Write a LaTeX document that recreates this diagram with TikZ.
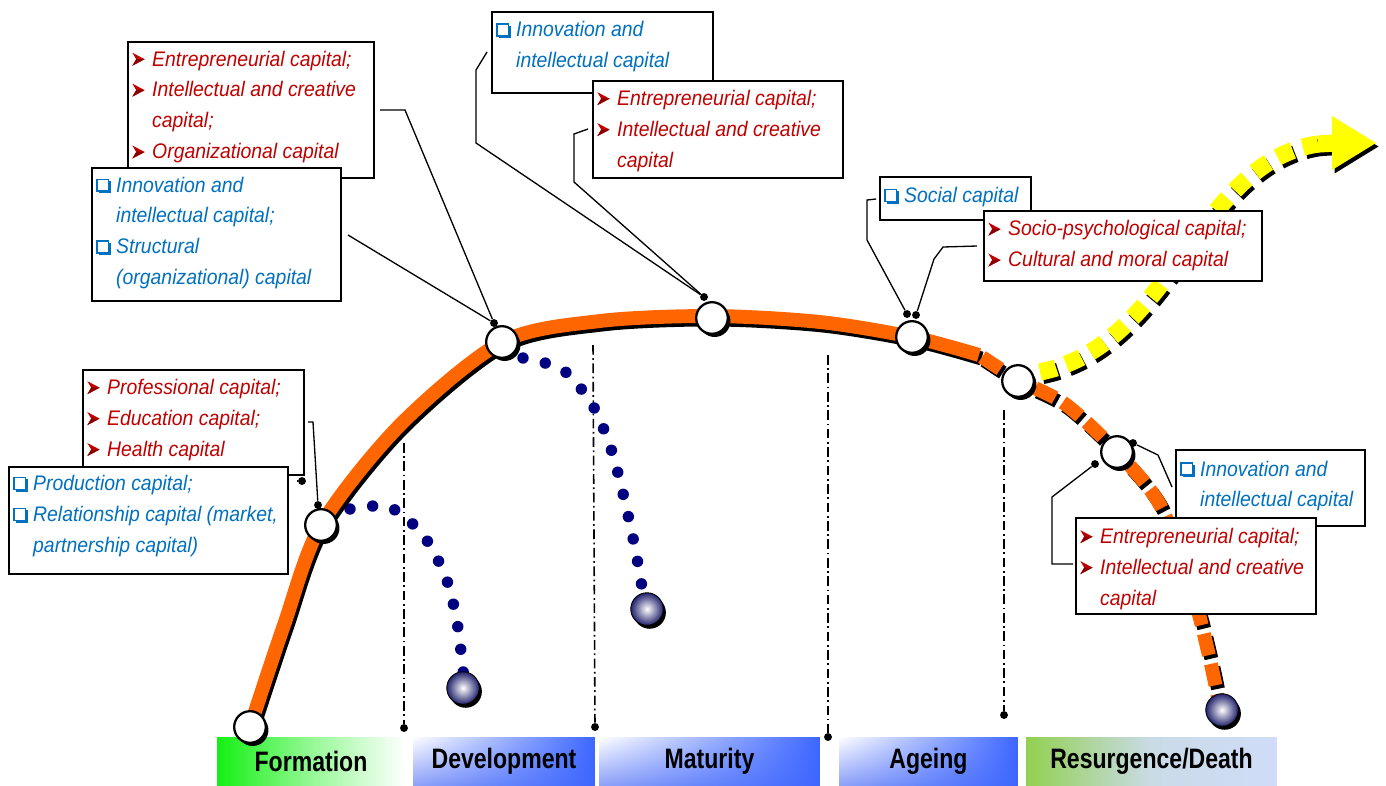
\documentclass[tikz,border=0pt]{standalone}
\usepackage{fontspec}
\setmainfont{Liberation Sans}
\newfontfamily\boxfont{Liberation Sans}[FakeStretch=0.92]
\newfontfamily\labfont{Liberation Sans}[FakeStretch=0.82]
\usetikzlibrary{fit,shadings,shadows,calc}

\definecolor{orng}{HTML}{FF6600}
\definecolor{rtxt}{HTML}{C00000}
\definecolor{rdark}{HTML}{8A0000}
\definecolor{btxt}{HTML}{0070C0}
\definecolor{navyd}{HTML}{000080}
\definecolor{phblue}{HTML}{3D66FF}
\definecolor{phblueL}{HTML}{8EA2F8}
\definecolor{phgreen}{HTML}{14F014}
\definecolor{rsgreen}{HTML}{92D050}
\definecolor{rsblue}{HTML}{D0DCF8}
\definecolor{yell}{HTML}{FFFF00}
\definecolor{ballnavy}{HTML}{23236E}

\newcommand\rbul{\makebox[11.3pt][l]{\tikz[baseline=0pt, x=1pt, y=1pt]{%
  \fill[rtxt] (0.2,0.2) -- (7.2,3.9) -- (0.2,7.6) -- (2.4,3.9) -- cycle;
  \fill[rdark] (0.2,0.2) -- (7.2,3.9) -- (2.4,3.9) -- cycle;}}}
\newcommand\bbul{\makebox[11.3pt][l]{\tikz[baseline=0pt, x=1pt, y=1pt]{%
  \fill[btxt] (1.4,-0.7) rectangle (8.2,6.4);
  \filldraw[fill=white, draw=btxt, line width=0.8pt] (0.4,0.5) rectangle (7.0,7.3);}}}
\newcommand\ind{\hspace*{11.3pt}}

\tikzset{
  cbox/.style={draw=black, line width=1.1pt, fill=white, inner sep=0pt},
  ctxt/.style={anchor=west, inner sep=0pt, align=left, font=\boxfont\itshape\fontsize{12}{17.6}\selectfont},
  rtx/.style={ctxt, text=rtxt},
  btx/.style={ctxt, text=btxt},
  wnode/.style={circle, draw=black, line width=1.3pt, fill=white, minimum size=18pt, inner sep=0pt,
     drop shadow={shadow xshift=1.5pt, shadow yshift=-1.8pt, opacity=1, fill=black}},
  ballnode/.style={circle, minimum size=18.5pt, inner sep=0pt, inner color=white, outer color=ballnavy,
     draw=black, line width=0.5pt,
     drop shadow={shadow xshift=1.5pt, shadow yshift=-2pt, opacity=1, fill=black}},
  link/.style={draw=black, line width=0.75pt},
  ldot/.style={circle, fill=black, inner sep=0pt, minimum size=4.5pt},
  vline/.style={black, line width=0.9pt, dash pattern=on 5.5pt off 2pt on 1pt off 2pt},
  navydots/.style={navyd, line width=6.5pt, line cap=round, dash pattern=on 0pt off 13pt},
  phase/.style={minimum height=0.96cm, inner sep=0pt, font=\labfont\bfseries\fontsize{16}{16}\selectfont, text=black},
  blueph/.style={phase, upper left=white, lower left=phblueL, upper right=phblue, lower right=phblue},
}

\begin{document}
\begin{tikzpicture}[x=0.02cm, y=-0.02cm]
\useasboundingbox (0,0) rectangle (1386,785);

% phase bars
\node[phase, minimum width=3.76cm, left color=phgreen, right color=white, middle color=phgreen!45!white] (ph1) at (311,761) {\raisebox{-2pt}{Formation}};
\node[blueph, minimum width=3.64cm] (ph2) at (504,761) {\raisebox{-2pt}{Development}};
\node[blueph, minimum width=4.42cm] (ph3) at (709.5,761) {\raisebox{-2pt}{Maturity}};
\node[blueph, minimum width=3.58cm] (ph4) at (928.5,761) {\raisebox{-3pt}{Ageing}};
\node[phase, minimum width=5.02cm, left color=rsgreen, right color=rsblue, middle color=rsblue!90!rsgreen] (ph5) at (1151.5,761) {\raisebox{-2pt}{Resurgence/Death}};

% vertical dash-dot lines
\node[ldot] (v1) at (404,728) {};
\node[ldot] (v2) at (595,727) {};
\node[ldot] (v3) at (828,737) {};
\node[ldot] (v4) at (1004,715) {};
\coordinate (v1t) at (404,443);
\coordinate (v2t) at (593,345);
\coordinate (v3t) at (828,355);
\coordinate (v4t) at (1004,410);
\draw[vline] (v1t) -- (v1);
\draw[vline] (v2t) -- (v2);
\draw[vline] (v3t) -- (v3);
\draw[vline] (v4t) -- (v4);

% navy trajectories
\draw[navydots] plot[smooth] coordinates {(350,509)(389,507)(423,535)(446,578)(458,628)(466,700)};
\draw[navydots] plot[smooth] coordinates {(523,358)(563,370)(593,406)(612,452)(625,502)(636,553)(645,605)};
\node[ballnode] (b1) at (463,688) {};
\node[ballnode] (b2) at (647,609) {};

% orange main curve (shadow + colour)
\begin{scope}[shift={(2.5,3.5)}]
\draw[black, line width=7.9pt] plot[smooth] coordinates {(250,727)(284,625)(321,525)(400,425)(502,342)(600,321)(712,316)(820,322)(912,337)(979,355)};
\draw[black, line width=7.9pt, dash pattern=on 12.5pt off 5.1pt] plot[smooth] coordinates {(982,357)(1018,380)(1065,404)(1117,452)(1160,505)(1192,590)(1210,660)(1220,708)};
\end{scope}
\draw[orng, line width=7.9pt] plot[smooth] coordinates {(250,727)(284,625)(321,525)(400,425)(502,342)(600,321)(712,316)(820,322)(912,337)(979,355)};
\draw[orng, line width=7.9pt, dash pattern=on 12.5pt off 5.1pt] plot[smooth] coordinates {(982,357)(1018,380)(1065,404)(1117,452)(1160,505)(1192,590)(1210,660)(1220,708)};
\node[ballnode] (b3) at (1222,710) {};

% yellow arrow
\begin{scope}[shift={(2.5,3.5)}]
\draw[black, line width=9.8pt, dash pattern=on 9.5pt off 6pt] (1040,372) .. controls (1110,358) and (1150,300) .. (1190,245) .. controls (1225,197) and (1262,152) .. (1318,144);
\draw[black, line width=9.8pt] (1318,144) -- (1335,143);
\fill[black] (1332,116) -- (1376,143) -- (1332,170) -- cycle;
\end{scope}
\draw[yell, line width=9.8pt, dash pattern=on 9.5pt off 6pt] (1040,372) .. controls (1110,358) and (1150,300) .. (1190,245) .. controls (1225,197) and (1262,152) .. (1318,144);
\draw[yell, line width=9.8pt] (1318,144) -- (1335,143);
\fill[yell] (1332,116) -- (1376,143) -- (1332,170) -- cycle;

% stage circles
\node[wnode] (n0) at (250,727) {};
\node[wnode] (n1) at (321,525) {};
\node[wnode] (n2) at (502,342) {};
\node[wnode] (n3) at (712,318) {};
\node[wnode] (n4) at (912,337) {};
\node[wnode] (n5) at (1018,381) {};
\node[wnode] (n6) at (1117,452) {};

% connector end dots
\node[ldot] (d1) at (318,505) {};
\node[ldot] (d2) at (302,481) {};
\node[ldot] (d3) at (494,323) {};
\node[ldot] (d5) at (704,297) {};
\node[ldot] (d7) at (907,314) {};
\node[ldot] (d8) at (916,315) {};
\node[ldot] (d9) at (1133,443) {};
\node[ldot] (d10) at (1095,464) {};

% connector free ends
\coordinate (s1) at (308,422);
\coordinate (s2) at (297,481);
\coordinate (s3) at (380,110);
\coordinate (s4) at (348,235);
\coordinate (s5) at (487,52);
\coordinate (s6) at (588,129);
\coordinate (s7) at (876,199);
\coordinate (s8) at (977,246);
\coordinate (s9) at (1172,487);
\coordinate (s10) at (1073,564);

\draw[link] (s1) -- (313,422) -- (d1);
\draw[link] (s2) -- (d2);
\draw[link] (s3) -- (405,110) -- (d3);
\draw[link] (s4) -- (d3);
\draw[link] (s5) -- (476,70) -- (476,143) -- (d5);
\draw[link] (s6) -- (574,134) -- (574,182) -- (d5);
\draw[link] (s7) -- (867,200) -- (867,240) -- (d7);
\draw[link] (s8) -- (943,247) -- (934,259) -- (d8);
\draw[link] (s9) -- (1158,455) -- (d9);
\draw[link] (s10) -- (1052,564) -- (1052,497) -- (d10);

% callout boxes
\node[cbox, fit={(83,370)(304,475)}] (R1) {};
\node[rtx] (R1t) at (87,420) {\rbul Professional capital;\\ \rbul Education capital;\\ \rbul Health capital};
\node[cbox, fit={(9,467)(288,574)}] (B1) {};
\node[btx] (B1t) at (13,516) {\bbul Production capital;\\ \bbul Relationship capital (market,\\ \ind partnership capital)};

\node[cbox, fit={(128,42)(374,178)}] (R2) {};
\node[rtx] (R2t) at (132,107) {\rbul Entrepreneurial capital;\\ \rbul Intellectual and creative\\ \ind capital;\\ \rbul Organizational capital};
\node[cbox, fit={(92,168)(341,301)}] (B2) {};
\node[btx] (B2t) at (96,233) {\bbul Innovation and\\ \ind intellectual capital;\\ \bbul Structural\\ \ind (organizational) capital};

\node[cbox, fit={(492,12)(713,93)}] (B3) {};
\node[btx] (B3t) at (496,47) {\bbul Innovation and\\ \ind intellectual capital};
\node[cbox, fit={(593,81)(843,178)}] (R3) {};
\node[rtx] (R3t) at (597,131) {\rbul Entrepreneurial capital;\\ \rbul Intellectual and creative\\ \ind capital};

\node[cbox, fit={(880,177)(1031,220)}] (B4) {};
\node[btx] (B4t) at (884,197) {\bbul Social capital};
\node[cbox, fit={(984,211)(1262,281)}] (R4) {};
\node[rtx] (R4t) at (988,246) {\rbul Socio-psychological capital;\\ \rbul Cultural and moral capital};

\node[cbox, fit={(1176,450)(1365,526)}] (B5) {};
\node[btx] (B5t) at (1180,486) {\bbul Innovation and\\ \ind intellectual capital};
\node[cbox, fit={(1076,518)(1316,614)}] (R5) {};
\node[rtx] (R5t) at (1080,569) {\rbul Entrepreneurial capital;\\ \rbul Intellectual and creative\\ \ind capital};

\end{tikzpicture}
\end{document}
